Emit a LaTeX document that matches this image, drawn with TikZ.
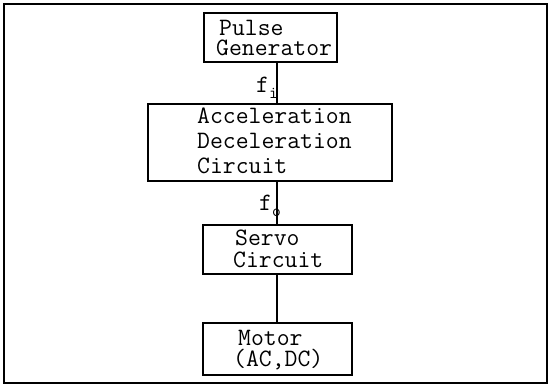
\documentclass[tikz,border=0pt]{standalone}
\usepackage{fontspec}
\newcommand{\lineset}[2]{\vtop{\baselineskip=#1\lineskiplimit=-50pt\lineskip=0pt #2}}
\newcommand{\boxfont}{\ttfamily\addfontfeatures{FakeBold=0.8}\fontsize{25}{28}\selectfont}
\begin{document}
\begin{tikzpicture}[x=1pt,y=-1pt,
  box/.style={draw=black,line width=1.4pt,rectangle,inner sep=0pt},
  frame/.style={draw=black,line width=1.6pt},
  lbl/.style={inner sep=0pt,anchor=base west,font=\boxfont},
  sig/.style={inner sep=0pt,anchor=base west,font=\boxfont},
  conn/.style={draw=black,line width=1.4pt}]
\useasboundingbox (0,0) rectangle (549,386);
\draw[frame] (4,4) rectangle (547,383);
% boxes
\node[box,minimum width=133pt,minimum height=49pt] (pulse) at (270.5,37.5) {};
\node[box,minimum width=244pt,minimum height=77pt] (accel) at (270,142.5) {};
\node[box,minimum width=149pt,minimum height=49pt] (servo) at (277.5,249.5) {};
\node[box,minimum width=149pt,minimum height=52pt] (motor) at (277.5,349) {};
% labels
\node[lbl] (t1) at (216,35) {\lineset{20pt}{\hbox{\hspace{3pt}Pulse}\hbox{Generator}}};
\node[lbl] (t3) at (197,123) {\lineset{25pt}{\hbox{Acceleration}\hbox{Deceleration}\hbox{Circuit}}};
\node[lbl] (t6) at (233,245) {\lineset{22pt}{\hbox{\hspace{2pt}Servo}\hbox{Circuit}}};
\node[lbl] (t8) at (233,345) {\lineset{21pt}{\hbox{\hspace{5pt}Motor}\hbox{(AC,DC)}}};
% connectors
\coordinate (cx) at (277,0);
\draw[conn] (pulse.south -| cx) -- (accel.north -| cx);
\draw[conn] (accel.south -| cx) -- (servo.north -| cx);
\draw[conn] (servo.south -| cx) -- (motor.north -| cx);
% signal labels
\node[sig] (fi) at (256,92) {f\raisebox{-6pt}{\fontsize{17}{17}\selectfont i}};
\node[sig] (fo) at (259,210) {f\raisebox{-6pt}{\fontsize{17}{17}\selectfont o}};
\end{tikzpicture}
\end{document}
